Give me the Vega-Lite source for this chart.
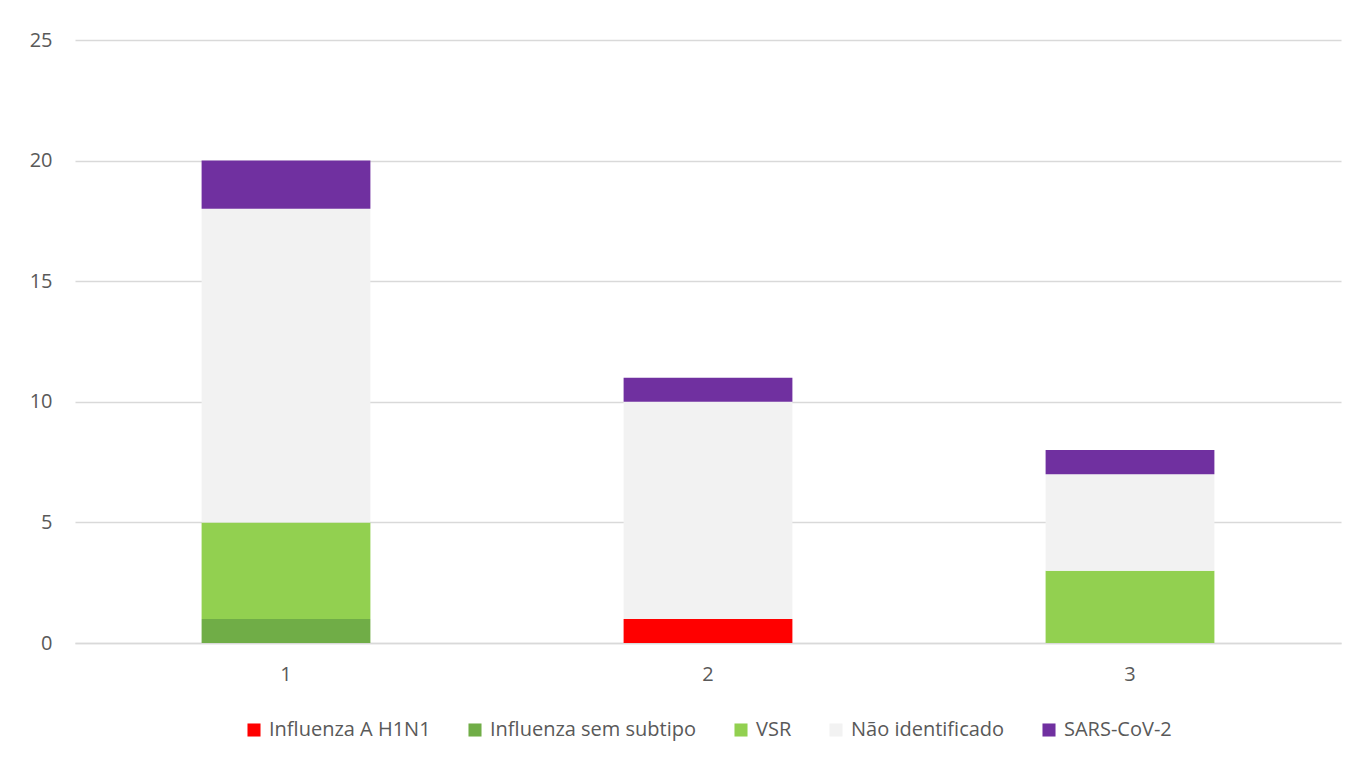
{
  "$schema": "https://vega.github.io/schema/vega-lite/v6.json",
  "autosize": {"type": "none"},
  "padding": {"left": 75, "top": 40, "right": 20, "bottom": 115},
  "width": 1266,
  "height": 603,
  "background": "white",
  "data": {
    "values": [
      {"grupo": "1", "tipo": "Influenza sem subtipo", "ordem": 2, "valor": 1},
      {"grupo": "1", "tipo": "VSR", "ordem": 3, "valor": 4},
      {"grupo": "1", "tipo": "Não identificado", "ordem": 4, "valor": 13},
      {"grupo": "1", "tipo": "SARS-CoV-2", "ordem": 5, "valor": 2},
      {"grupo": "2", "tipo": "Influenza A H1N1", "ordem": 1, "valor": 1},
      {"grupo": "2", "tipo": "Não identificado", "ordem": 4, "valor": 9},
      {"grupo": "2", "tipo": "SARS-CoV-2", "ordem": 5, "valor": 1},
      {"grupo": "3", "tipo": "VSR", "ordem": 3, "valor": 3},
      {"grupo": "3", "tipo": "Não identificado", "ordem": 4, "valor": 4},
      {"grupo": "3", "tipo": "SARS-CoV-2", "ordem": 5, "valor": 1}
    ]
  },
  "mark": {"type": "bar"},
  "encoding": {
    "x": {
      "field": "grupo", "type": "nominal",
      "scale": {"paddingInner": 0.6, "paddingOuter": 0.3},
      "axis": {"title": null, "labelAngle": 0, "ticks": false, "domainColor": "#D9D9D9", "domainWidth": 1.5, "labelPadding": 21}
    },
    "y": {
      "field": "valor", "type": "quantitative", "aggregate": "sum", "stack": "zero",
      "scale": {"domain": [0, 25]},
      "axis": {"title": null, "values": [0, 5, 10, 15, 20, 25], "ticks": false, "domain": false, "gridColor": "#D9D9D9", "gridWidth": 1.5, "labelPadding": 23}
    },
    "color": {
      "field": "tipo", "type": "nominal",
      "scale": {
        "domain": ["Influenza A H1N1", "Influenza sem subtipo", "VSR", "Não identificado", "SARS-CoV-2"],
        "range": ["#FF0000", "#70AD47", "#92D050", "#F2F2F2", "#7030A0"]
      },
      "legend": {
        "title": null, "orient": "bottom", "direction": "horizontal",
        "symbolType": "square", "symbolSize": 170, "symbolStrokeWidth": 0,
        "columnPadding": 34, "labelOffset": 5, "offset": 36, "labelLimit": 400
      }
    },
    "order": {"field": "ordem", "type": "quantitative"}
  },
  "config": {
    "view": {"stroke": null},
    "font": "Open Sans",
    "axis": {"labelFont": "Open Sans", "labelFontSize": 20, "labelColor": "#595959"},
    "legend": {"labelFont": "Open Sans", "labelFontSize": 20, "labelColor": "#595959", "layout": {"bottom": {"anchor": "middle"}}}
  }
}
